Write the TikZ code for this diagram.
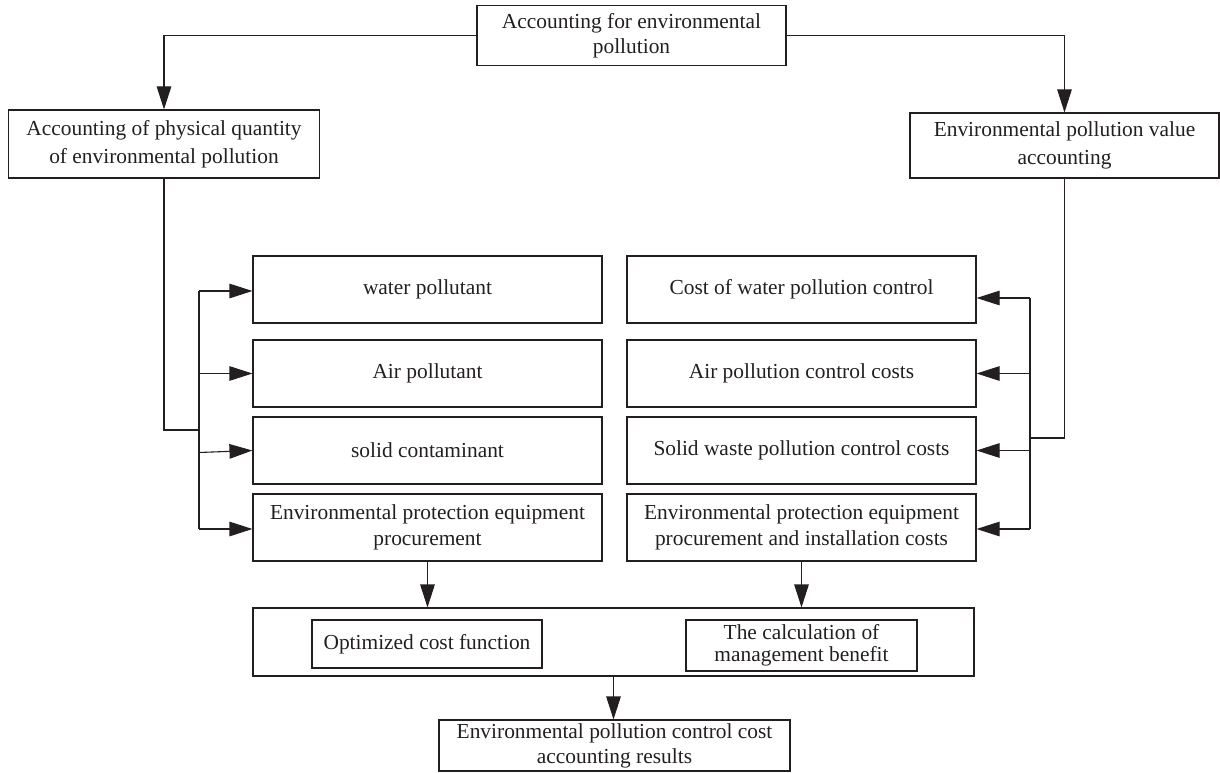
\documentclass[tikz,border=0pt]{standalone}
\usepackage{fontspec}
\setmainfont{Liberation Serif}
\usetikzlibrary{arrows.meta}
\definecolor{ink}{RGB}{35,31,32}
\begin{document}
\begin{tikzpicture}[x=1pt,y=-1pt,
 box/.style={draw=ink, line width=1.1pt, rectangle, inner sep=0pt, align=center, text=ink, font=\fontsize{21.4}{25}\selectfont},
 conn/.style={draw=ink, line width=1.1pt},
 arr/.style={conn, -{Triangle[length=23pt,width=14.5pt]}},
]
\useasboundingbox (0,0) rectangle (1220,773);
% top level
\node[box, minimum width=309pt, minimum height=60pt] (root) at (631.5,35.5) {Accounting for environmental\\pollution};
\node[box, minimum width=311pt, minimum height=68pt, font=\fontsize{21.4}{28}\selectfont] (L) at (164,144) {Accounting of physical quantity\\of environmental pollution};
\node[box, minimum width=309pt, minimum height=65pt, font=\fontsize{21.4}{28}\selectfont] (R) at (1064.5,145.5) {Environmental pollution value\\accounting};
% left column
\node[box, minimum width=349pt, minimum height=67pt] (wL) at (427.5,289.5) {water pollutant};
\node[box, minimum width=349pt, minimum height=67pt] (aL) at (427.5,373.5) {Air pollutant};
\node[box, minimum width=349pt, minimum height=67pt] (sL) at (427.5,450.5) {solid contaminant};
\node[box, minimum width=349pt, minimum height=67pt, font=\fontsize{21.4}{26}\selectfont] (eL) at (427.5,527.5) {Environmental protection equipment\\procurement};
% right column
\node[box, minimum width=349pt, minimum height=67pt] (wR) at (801.5,289.5) {Cost of water pollution control};
\node[box, minimum width=349pt, minimum height=67pt] (aR) at (801.5,373.5) {Air pollution control costs};
\node[box, minimum width=349pt, minimum height=67pt] (sR) at (801.5,450.5) {Solid waste pollution control costs};
\node[box, minimum width=349pt, minimum height=67pt, font=\fontsize{21.4}{26}\selectfont] (eR) at (801.5,527.5) {Environmental protection equipment\\procurement and installation costs};
% bottom
\node[box, minimum width=721pt, minimum height=68pt] (big) at (613.5,642) {};
\node[box, minimum width=230pt, minimum height=48pt] (opt) at (427,644) {Optimized cost function};
\node[box, minimum width=231pt, minimum height=51pt, font=\fontsize{21.4}{22}\selectfont] (calc) at (801.5,645.5) {The calculation of\\management benefit};
\node[box, minimum width=351pt, minimum height=51pt, font=\fontsize{21.4}{25}\selectfont] (res) at (614.5,745.5) {Environmental pollution control cost\\accounting results};
% junction coordinates
\coordinate (lj) at (199,430);
\coordinate (lb1) at (199,291);
\coordinate (lb2) at (199,373.5);
\coordinate (lb3) at (199,452.5);
\coordinate (lb4) at (199,529);
\coordinate (rj) at (1030,438);
\coordinate (rb1) at (1030,298);
\coordinate (rb2) at (1030,373.5);
\coordinate (rb3) at (1030,450.5);
\coordinate (rb4) at (1030,529);
% connectors top
\draw[arr] (root.west) -| (L.north);
\draw[arr] (root.east) -| (R.north);
% left branch
\draw[conn] (L.south) |- (lj);
\draw[conn] (lb1) -- (lb4);
\draw[arr] (lb1) -- (lb1 -| wL.west);
\draw[arr] (lb2) -- (aL.west);
\draw[arr] (lb3) -- (sL.west);
\draw[arr] (lb4) -- (lb4 -| eL.west);
% right branch
\draw[conn] (R.south) |- (rj);
\draw[conn] (rb1) -- (rb4);
\draw[arr] (rb1) -- (rb1 -| wR.east);
\draw[arr] (rb2) -- (aR.east);
\draw[arr] (rb3) -- (sR.east);
\draw[arr] (rb4) -- (rb4 -| eR.east);
% bottom
\draw[arr] (eL.south) -- (eL.south |- big.north);
\draw[arr] (eR.south) -- (eR.south |- big.north);
\draw[arr] (big.south) -- (big.south |- res.north);
\end{tikzpicture}
\end{document}
